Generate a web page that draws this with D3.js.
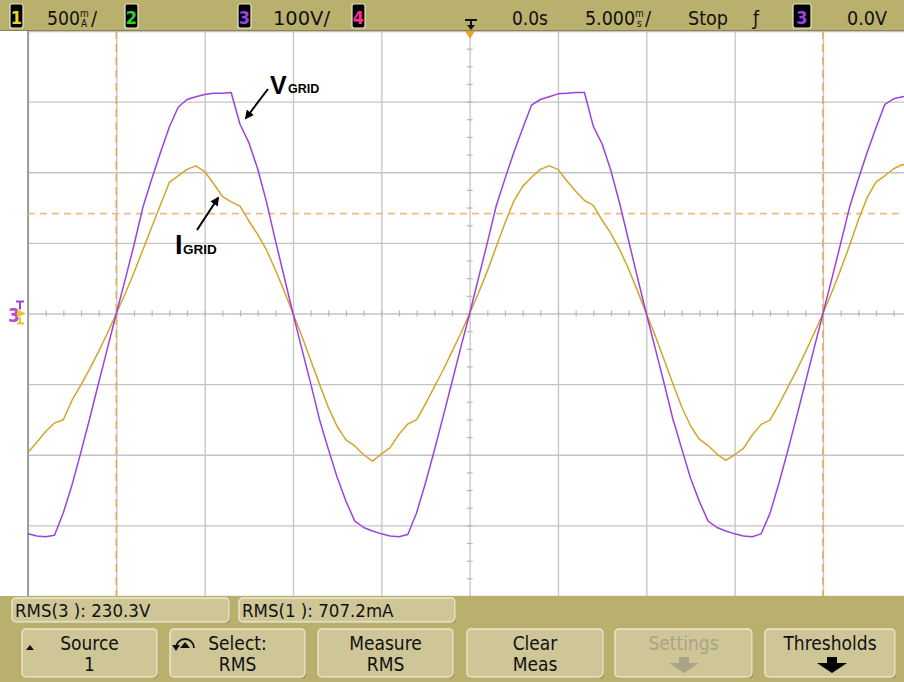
<!DOCTYPE html>
<html><head><meta charset="utf-8">
<script src="https://cdn.jsdelivr.net/npm/d3@7"></script>
<style>
html,body{margin:0;padding:0;background:#fff;}
svg{display:block;}
.cond{font-family:"DejaVu Sans Condensed","Liberation Sans Narrow","DejaVu Sans",sans-serif;font-stretch:condensed;}
.lab{font-family:"Liberation Sans",Arial,sans-serif;font-weight:bold;}
</style></head><body>
<svg id="c" width="904" height="682"></svg>
<script>
// ---------- data ----------
const sampleStartMs = -25, sampleStepMs = 0.5;   // time base of the samples (ms)
const voltageV = [
 -312,-315,-316,-314,-282,-242,-196,-148,-98,-49,0,
 48,97,150,190,228,264,292,303,307,310,312,312,313,268,242,205,158,104,52,0,
 -50,-99,-150,-192,-232,-266,-294,-303,-308,-312,-315,-316,-313,-282,-240,-194,-146,-97,-48,0,
 50,100,152,191,228,262,295,303,307,311,312,313,313,265,240,202,155,103,51,0,
 -49,-98,-149,-191,-233,-266,-294,-303,-308,-312,-315,-316,-312,-283,-241,-195,-147,-98,-49,0,
 49,99,150,190,228,263,296,304,307,309
];
const currentMA = [
 -984,-912,-835,-775,-752,-612,-505,-390,-268,-138,0,
 140,290,450,610,770,928,975,1020,1045,1005,920,830,790,760,655,560,450,310,160,0,
 -160,-330,-500,-665,-800,-895,-938,-1000,-1045,-995,-950,-855,-782,-751,-640,-520,-400,-270,-140,0,
 145,300,470,640,795,900,965,1020,1045,1020,940,865,800,765,660,565,450,315,160,0,
 -155,-325,-495,-660,-795,-890,-935,-995,-1040,-1000,-955,-860,-785,-755,-645,-525,-405,-275,-140,0,
 150,310,480,660,820,930,975,1025,1055,1030
];
const timeGridMs = [-25,-20,-15,-10,-5,0,5,10,15,20,25];
const voltGridV = [-400,-300,-200,-100,0,100,200,300,400];
const cursorTimesMs = [-20, 20];
const cursorCurrentMA = [707.2];
const channelLabels = ["1","2","3","4"];
const topTexts = ["500", "100V/", "0.0s", "5.000", "Stop", "0.0V"];
const measureTexts = ["RMS(3 ): 230.3V", "RMS(1 ): 707.2mA"];
const buttonLines = [["Source","1"],["Select:","RMS"],["Measure","RMS"],["Clear","Meas"],["Settings",""],["Thresholds",""]];

// ---------- drawing ----------
const svg = d3.select("#c");
const W = 904, H = 682;
const pLeft = 28, pTop = 31, pBottom = 596, pRight = 911.3;
const khaki = "#bab06e";

const x = d3.scaleLinear().domain([-25, 25]).range([pLeft, pRight]);
const yV = d3.scaleLinear().domain([-400, 400]).range([pBottom, pTop]);
const yI = d3.scaleLinear().domain([-2000, 2000]).range([pBottom, pTop]);

svg.append("rect").attr("width", W).attr("height", H).attr("fill", "#fff");

// grid via axes
const gx = svg.append("g").attr("transform", `translate(0,${pBottom})`)
  .call(d3.axisBottom(x).tickValues(timeGridMs).tickSize(-(pBottom - pTop)).tickFormat(""));
const gy = svg.append("g").attr("transform", `translate(${pLeft},0)`)
  .call(d3.axisLeft(yV).tickValues(voltGridV).tickSize(-(W - pLeft)).tickFormat(""));
[gx, gy].forEach(g => {
  g.select(".domain").remove();
  g.selectAll(".tick line").attr("stroke", "#c4c4c4").attr("stroke-width", 1.3);
});
// minor ticks on the centre lines
const minorX = d3.range(-25, 25.01, 1);
svg.append("g").attr("transform", `translate(0,${yV(0) + 3})`)
  .call(d3.axisBottom(x).tickValues(minorX).tickSize(-6).tickFormat(""))
  .call(g => { g.select(".domain").remove(); g.selectAll("line").attr("stroke", "#b8b8b8").attr("stroke-width", 1.2); });
const minorY = d3.range(-400, 400.1, 25);
svg.append("g").attr("transform", `translate(${x(0) - 3},0)`)
  .call(d3.axisLeft(yV).tickValues(minorY).tickSize(-6).tickFormat(""))
  .call(g => { g.select(".domain").remove(); g.selectAll("line").attr("stroke", "#b8b8b8").attr("stroke-width", 1.2); });
// left border
svg.append("line").attr("x1", pLeft).attr("x2", pLeft).attr("y1", pTop).attr("y2", pBottom)
  .attr("stroke", "#8e8e8e").attr("stroke-width", 1.6);

// clip
svg.append("clipPath").attr("id", "clip").append("rect")
  .attr("x", pLeft).attr("y", pTop).attr("width", W - pLeft).attr("height", pBottom - pTop);
const plot = svg.append("g").attr("clip-path", "url(#clip)");

// cursors
plot.selectAll(".vc").data(cursorTimesMs).join("line")
  .attr("x1", d => x(d)).attr("x2", d => x(d)).attr("y1", pTop).attr("y2", pBottom)
  .attr("stroke", "#eca95a").attr("stroke-width", 1.6).attr("stroke-dasharray", "8,5");
plot.selectAll(".hc").data(cursorCurrentMA).join("line")
  .attr("x1", pLeft).attr("x2", W).attr("y1", d => yI(d)).attr("y2", d => yI(d))
  .attr("stroke", "#f2b983").attr("stroke-width", 1.6).attr("stroke-dasharray", "7,5");

const tOf = i => sampleStartMs + i * sampleStepMs;
const lineV = d3.line().x((d, i) => x(tOf(i))).y(d => yV(d));
const lineI = d3.line().x((d, i) => x(tOf(i))).y(d => yI(d));
plot.append("path").datum(currentMA).attr("d", lineI).attr("fill", "none")
  .attr("stroke", "#d2a62a").attr("stroke-width", 1.5).attr("stroke-linejoin", "round");
plot.append("path").datum(voltageV).attr("d", lineV).attr("fill", "none")
  .attr("stroke", "#9c42e0").attr("stroke-width", 1.5).attr("stroke-linejoin", "round");

// annotations
const defs = svg.append("defs");
defs.append("marker").attr("id", "ah").attr("viewBox", "0 0 10 10").attr("refX", 8).attr("refY", 5)
  .attr("markerWidth", 4.5).attr("markerHeight", 4.5).attr("orient", "auto")
  .append("path").attr("d", "M0,0 L10,5 L0,10 z").attr("fill", "#000");
svg.append("line").attr("x1", 268).attr("y1", 89).attr("x2", 246).attr("y2", 118)
  .attr("stroke", "#000").attr("stroke-width", 2).attr("marker-end", "url(#ah)");
svg.append("line").attr("x1", 197).attr("y1", 230).attr("x2", 218).attr("y2", 198)
  .attr("stroke", "#000").attr("stroke-width", 2).attr("marker-end", "url(#ah)");
svg.append("text").attr("class", "lab").attr("x", 270).attr("y", 94).attr("font-size", 25).text("V");
svg.append("text").attr("class", "lab").attr("x", 288).attr("y", 93).attr("font-size", 12.5).text("GRID");
svg.append("text").attr("class", "lab").attr("x", 175).attr("y", 254).attr("font-size", 27).text("I");
svg.append("text").attr("class", "lab").attr("x", 183).attr("y", 254).attr("font-size", 13.5).text("GRID");

// left channel marker
const yc = yV(0);
svg.append("text").attr("class", "cond").attr("x", 8).attr("y", yc + 8).attr("font-size", 19)
  .attr("fill", "#b848e0").attr("font-weight", "bold").text("3");
svg.append("path").attr("d", `M16,${yc - 12} h8 M20,${yc - 12} v8`).attr("stroke", "#a040e0").attr("stroke-width", 2).attr("fill", "none");
svg.append("path").attr("d", `M17,${yc - 4} L26,${yc} L17,${yc + 4} z`).attr("fill", "#efc52a");
svg.append("path").attr("d", `M20,${yc + 4} v6 M17,${yc + 10} h7`).attr("stroke", "#efc52a").attr("stroke-width", 2);

// ---------- top bar ----------
svg.append("rect").attr("x", 0).attr("y", 0).attr("width", W).attr("height", pTop).attr("fill", khaki);
svg.append("line").attr("x1", 0).attr("x2", W).attr("y1", pTop - 0.5).attr("y2", pTop - 0.5).attr("stroke", "#8a8250").attr("stroke-width", 1);
const chColors = ["#e8d82a", "#2ad030", "#9a40e8", "#ff2c8c"];
const chX = [10, 125, 238, 352];
channelLabels.forEach((c, i) => {
  svg.append("rect").attr("x", chX[i]).attr("y", 4).attr("width", 13).attr("height", 24).attr("rx", 2)
    .attr("fill", "#000").attr("stroke", "#e8e4cc").attr("stroke-width", 1.2);
  svg.append("text").attr("class", "cond").attr("x", chX[i] + 6.5).attr("y", 24).attr("text-anchor", "middle")
    .attr("font-size", 18).attr("font-weight", "bold").attr("fill", chColors[i]).text(c);
});
// right channel box
svg.append("rect").attr("x", 793).attr("y", 4).attr("width", 18).attr("height", 24).attr("rx", 2)
  .attr("fill", "#000").attr("stroke", "#e8e4cc").attr("stroke-width", 1.2);
svg.append("text").attr("class", "cond").attr("x", 802).attr("y", 24).attr("text-anchor", "middle")
  .attr("font-size", 18).attr("font-weight", "bold").attr("fill", "#9a40e8").text("3");

const tb = (tx, x0, w) => svg.append("text").attr("class", "cond").attr("x", x0).attr("y", 25)
  .attr("font-size", 20).attr("fill", "#111").attr("textLength", w).attr("lengthAdjust", "spacingAndGlyphs").text(tx);
tb(topTexts[0], 47, 33);
svg.append("text").attr("class", "cond").attr("x", 80).attr("y", 17).attr("font-size", 10).attr("fill", "#111").text("m");
svg.append("text").attr("class", "cond").attr("x", 81).attr("y", 27).attr("font-size", 10).attr("fill", "#111").text("A");
svg.append("text").attr("class", "cond").attr("x", 91).attr("y", 25).attr("font-size", 20).attr("fill", "#111").text("/");
tb(topTexts[1], 273, 57);
tb(topTexts[2], 512, 36);
tb(topTexts[3], 585, 50);
svg.append("text").attr("class", "cond").attr("x", 635).attr("y", 17).attr("font-size", 10).attr("fill", "#111").text("m");
svg.append("text").attr("class", "cond").attr("x", 637).attr("y", 27).attr("font-size", 10).attr("fill", "#111").text("s");
svg.append("text").attr("class", "cond").attr("x", 645).attr("y", 25).attr("font-size", 20).attr("fill", "#111").text("/");
tb(topTexts[4], 688, 40);
svg.append("text").attr("class", "cond").attr("x", 753).attr("y", 25).attr("font-size", 19).attr("fill", "#111").text("ƒ");
tb(topTexts[5], 847, 40);
// trigger position marker
svg.append("path").attr("d", "M465,20 h12 M471,20 v7").attr("stroke", "#111").attr("stroke-width", 2).attr("fill", "none");
svg.append("path").attr("d", "M467,25 L471,30 L475,25 z").attr("fill", "#111");
svg.append("path").attr("d", `M465,${pTop} L475,${pTop} L470,${pTop + 8} z`).attr("fill", "#f0a030");

// ---------- bottom area ----------
svg.append("rect").attr("x", 0).attr("y", pBottom).attr("width", W).attr("height", H - pBottom).attr("fill", khaki);
const box = (x0, y0, w, h) => {
  svg.append("rect").attr("x", x0 + 1).attr("y", y0 + 1).attr("width", w).attr("height", h).attr("rx", 4).attr("fill", "#857c48");
  svg.append("rect").attr("x", x0).attr("y", y0).attr("width", w).attr("height", h).attr("rx", 4)
    .attr("fill", "#cfc698").attr("stroke", "#ece7cc").attr("stroke-width", 1.4);
};
const mX = [12, 239], mW = [217, 216];
measureTexts.forEach((t, i) => {
  box(mX[i], 598, mW[i], 24);
  svg.append("text").attr("class", "cond").attr("x", mX[i] + 3).attr("y", 617).attr("font-size", 18.5).attr("fill", "#111").text(t);
});
const bX = [22, 170, 318, 467, 615, 765], bW = [135, 135, 135, 136, 137, 130];
buttonLines.forEach((bl, i) => {
  box(bX[i], 629, bW[i], 48);
  const cx = bX[i] + bW[i] / 2;
  const col = i === 4 ? "#a9a487" : "#111";
  svg.append("text").attr("class", "cond").attr("x", cx).attr("y", 650).attr("text-anchor", "middle")
    .attr("font-size", 19).attr("fill", col).text(bl[0]);
  if (bl[1]) svg.append("text").attr("class", "cond").attr("x", cx).attr("y", 671).attr("text-anchor", "middle")
    .attr("font-size", 19).attr("fill", col).text(bl[1]);
});
// up triangle on Source
svg.append("path").attr("d", "M26,650 L30,645 L34,650 z").attr("fill", "#111");
// rotate icon on Select
svg.append("path").attr("d", "M176,648 A9,9 0 1 1 194,648").attr("fill", "none").attr("stroke", "#111").attr("stroke-width", 1.8);
svg.append("path").attr("d", "M172,645 L176,651 L180,645 z").attr("fill", "#111");
svg.append("path").attr("d", "M180,648 L185,642 L190,648 z").attr("fill", "#111");
// down arrows
const downArrow = (cx, col) => svg.append("path")
  .attr("d", `M${cx - 5},657 h10 v6 h10 L${cx},673 L${cx - 15},663 h10 z`).attr("fill", col);
downArrow(684, "#a9a487");
downArrow(832, "#000");
</script>
</body></html>
